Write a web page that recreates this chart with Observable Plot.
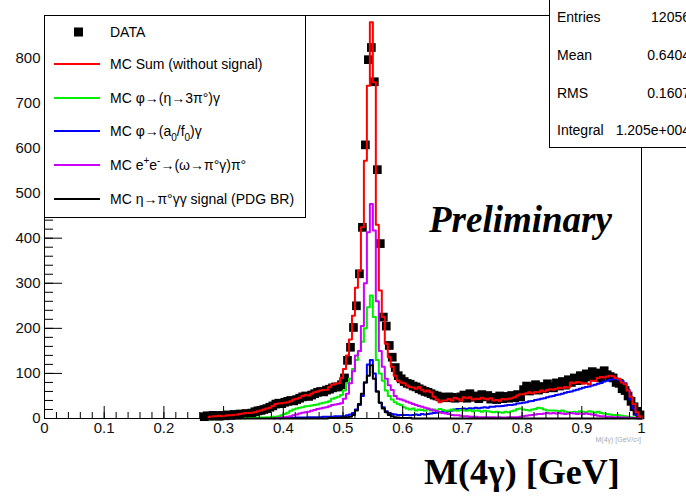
<!DOCTYPE html>
<html><head><meta charset="utf-8">
<script src="https://cdn.jsdelivr.net/npm/d3@7"></script>
<script src="https://cdn.jsdelivr.net/npm/@observablehq/plot@0.6"></script>
<style>body{margin:0;background:#fff} svg{display:block}</style>
</head><body><div id="chart"></div>
<script>
// Histogram bins: width 0.005, first bin starts at 0.25, 150 bins up to 1.0
const binStart = 0.25, binWidth = 0.005;

const dataCounts = [
  null,null,null,4,6,5,7,6,5,7,
  6,8,7,9,8,10,9,11,10,12,
  15,17,18,20,22,25,28,32,34,33,
  36,38,40,39,42,45,48,50,49,52,
  55,58,60,59,63,65,68,70,70,75,
  90,129,158,202,250,321,424,607,796,823,
  747,552,388,225,205,162,136,113,95,88,
  82,78,76,72,70,66,63,60,58,55,
  52,50,48,47,46,48,47,45,46,48,
  52,45,55,47,50,44,53,48,51,43,
  47,42,50,44,49,45,51,46,53,48,
  64,72,61,70,75,63,71,66,77,70,
  68,79,72,82,74,86,80,90,84,95,
  88,99,92,104,95,101,90,106,97,93,
  90,80,78,66,62,50,38,26,16,8
];
const mcSum = [
  null,null,null,null,null,4,5,5,6,5,
  6,7,7,8,9,10,11,12,12,13,
  14,16,18,20,22,24,28,32,33,34,
  35,36,38,42,44,46,50,52,51,55,
  58,60,62,63,64,70,75,77,78,90,
  110,140,175,228,290,328,424,572,738,879,
  746,430,284,225,166,136,115,95,84,80,
  78,73,70,69,66,70,64,60,62,58,
  48,42,36,40,40,43,40,46,44,40,
  47,45,47,42,44,43,46,44,42,45,
  40,41,39,43,42,44,45,47,51,54,
  54,56,58,56,59,58,62,60,63,65,
  64,66,68,67,70,69,80,78,81,80,
  77,78,76,84,83,90,92,91,93,95,
  94,90,88,80,76,62,48,32,14,5
];
const mcEta3pi = [
  null,null,null,null,null,null,null,null,null,null,
  null,null,null,null,null,null,null,1,1,1,
  1,2,2,2,3,3,4,4,5,7,
  10,13,17,20,22,24,25,27,28,29,
  30,31,33,35,36,38,44,46,48,52,
  62,78,88,110,130,150,170,200,247,273,
  225,130,100,84,62,50,42,36,32,30,
  25,22,20,22,18,20,19,17,21,18,
  20,18,21,19,17,18,20,18,17,19,
  18,17,19,16,18,17,15,17,16,15,
  14,15,14,13,15,14,16,18,21,22,
  20,19,18,20,21,24,23,20,18,18,
  18,17,16,18,15,14,14,15,14,16,
  15,14,16,15,13,15,12,11,10,9,
  8,8,7,6,5,4,3,2,1,1
];
const mcA0f0 = [
  null,null,null,null,null,null,null,null,null,null,
  null,null,null,null,null,null,null,null,null,null,
  null,null,null,null,null,null,null,null,null,1,
  1,1,1,1,2,2,2,2,3,3,
  3,3,3,4,4,4,4,5,5,5,
  5,7,9,12,20,30,50,80,120,130,
  100,60,35,25,16,12,10,9,8,8,
  8,8,7,8,9,8,10,9,10,11,
  12,13,14,15,14,16,18,20,21,21,
  22,21,23,22,24,23,24,25,24,26,
  26,27,27,28,29,30,30,31,33,34,
  35,36,38,39,41,42,44,45,47,49,
  50,52,53,55,57,59,60,62,64,66,
  68,70,71,73,75,77,79,82,84,86,
  87,88,86,83,78,64,42,22,8,2
];
const mcOmegaPi0 = [
  null,null,null,null,null,null,null,null,null,null,
  null,null,null,null,null,null,null,null,null,null,
  null,null,null,null,null,null,null,1,1,2,
  3,4,5,7,9,11,13,14,15,17,
  19,21,22,24,25,27,30,31,32,34,
  44,55,78,105,140,150,205,300,413,476,
  417,260,150,115,88,74,63,50,44,42,
  40,37,35,32,30,28,26,24,22,20,
  18,16,14,12,11,10,8,7,7,6,
  5,5,4,4,4,3,3,3,3,3,
  3,2,3,2,2,3,3,3,3,4,
  5,6,7,8,9,10,10,11,12,11,
  12,11,12,11,10,11,12,11,10,11,
  10,11,10,9,8,6,5,5,4,4,
  3,3,3,2,2,2,1,1,1,0
];
const mcSignal = [
  null,null,null,0,0,0,0,0,0,0,
  0,0,0,0,0,0,0,0,0,0,
  0,0,0,0,0,0,0,0,0,0,
  0,0,0,0,0,0,0,0,0,0,
  0,0,0,0,0,1,1,1,1,2,
  2,3,4,8,18,32,55,80,95,118,
  88,60,35,22,14,8,5,3,2,1,
  1,1,1,0,0,0,0,0,0,0,
  0,0,0,0,0,0,0,0,0,0,
  0,0,0,0,0,0,0,0,0,0,
  0,0,0,0,0,0,0,0,0,0,
  0,0,0,0,0,0,0,0,0,0,
  0,0,0,0,0,0,0,0,0,0,
  0,0,0,0,0,0,0,0,0,0,
  0,0,0,0,0,0,0,0,0,0
];

const xMajor = [0,0.1,0.2,0.3,0.4,0.5,0.6,0.7,0.8,0.9,1];
const xLabels = ["0","0.1","0.2","0.3","0.4","0.5","0.6","0.7","0.8","0.9","1"];
const yMajor = [0,100,200,300,400,500,600,700,800];
const yLabels = ["0","100","200","300","400","500","600","700","800"];

const legendItems = ["DATA","MC Sum (without signal)","MC φ→(η→3π°)γ","MC φ→(a0/f0)γ","MC e+e-→(ω→π°γ)π°","MC η→π°γγ signal (PDG BR)"];
const statsNames = ["Entries","Mean","RMS","Integral"];
const statsValues = ["12056","0.6404","0.1607","1.205e+004"];

const colors = {sum:"#ff0000", eta:"#00ee00", a0:"#0000ff", omega:"#cc00ff", sig:"#000000"};

const lo = i => +(binStart + i * binWidth).toFixed(4);
function steps(values) {
  const s = values.findIndex(v => v != null);
  const pts = [{x: lo(s), y: 0}];
  for (let i = s; i < values.length; i++) pts.push({x: lo(i), y: values[i]});
  pts.push({x: lo(values.length), y: values[values.length - 1]});
  pts.push({x: lo(values.length), y: 0});
  return pts;
}
const dataPts = dataCounts.map((v, i) => ({x: lo(i) + binWidth / 2, y: v})).filter(d => d.y != null && d.y > 0);

const xMinor = d3.range(0, 51).map(i => +(i * 0.02).toFixed(2));
const yMinor = d3.range(0, 45).map(i => i * 20);

const W = 686, H = 499, mL = 44, mR = 45, mT = 15, mB = 81;
const fw = W - mL - mR, fh = H - mT - mB;
const hist = (vals, c) => Plot.line(steps(vals), {x: "x", y: "y", curve: "step-after", stroke: c, strokeWidth: 2});

const chart = Plot.plot({
  width: W, height: H,
  marginLeft: mL, marginRight: mR, marginTop: mT, marginBottom: mB,
  x: {domain: [0, 1], axis: null},
  y: {domain: [0, 894], axis: null},
  style: {fontFamily: "'Liberation Sans', Arial, sans-serif", background: "white", color: "black"},
  marks: [
    Plot.dot(dataPts, {x: "x", y: "y", symbol: "square", r: 4.9, fill: "black", stroke: null}),
    hist(mcA0f0, colors.a0),
    hist(mcEta3pi, colors.eta),
    hist(mcOmegaPi0, colors.omega),
    hist(mcSignal, colors.sig),
    hist(mcSum, colors.sum),
    Plot.tickX(xMinor, {x: d => d, insetTop: fh - 6, stroke: "black"}),
    Plot.tickX(xMajor, {x: d => d, insetTop: fh - 12, stroke: "black"}),
    Plot.tickY(yMinor.filter(v => v <= 894), {y: d => d, insetRight: fw - 9, stroke: "black"}),
    Plot.tickY(yMajor, {y: d => d, insetRight: fw - 18, stroke: "black"}),
    Plot.frame({stroke: "black"}),
    Plot.text(xMajor, {x: d => d, frameAnchor: "bottom", dy: 14, text: (d, i) => xLabels[i], fontSize: 15, fill: "#111"}),
    Plot.text(yMajor, {y: d => d, frameAnchor: "left", dx: -4, textAnchor: "end", text: (d, i) => yLabels[i], fontSize: 15, fill: "#111"})
  ]
});
document.getElementById("chart").appendChild(chart);

const svg = d3.select(chart);
const sans = "'Liberation Sans', Arial, sans-serif";
const serif = "'Liberation Serif', 'Times New Roman', serif";

// Legend box
const lg = svg.append("g").attr("font-family", sans).attr("font-size", 14).attr("text-anchor", "start");
lg.append("rect").attr("x", 44.5).attr("y", 15.5).attr("width", 261).attr("height", 202).attr("fill", "white").attr("stroke", "black");
const rowsY = [32, 64, 98, 131, 165, 199];
const lineColors = [null, colors.sum, colors.eta, colors.a0, colors.omega, colors.sig];
lg.append("rect").attr("x", 74).attr("y", rowsY[0] - 4.5).attr("width", 9).attr("height", 9).attr("fill", "black");
for (let i = 1; i < 6; i++) {
  lg.append("line").attr("x1", 54).attr("x2", 100).attr("y1", rowsY[i]).attr("y2", rowsY[i]).attr("stroke", lineColors[i]).attr("stroke-width", 2);
}
function addText(i, parts) {
  const t = lg.append("text").attr("x", 110).attr("y", rowsY[i] + 5).attr("text-anchor", "start");
  parts.forEach(p => {
    const s = t.append("tspan").text(p.t);
    if (p.sub) s.attr("font-size", 10).attr("dy", 5);
    if (p.sup) s.attr("font-size", 10).attr("dy", -6);
    if (p.back) s.attr("dy", p.back);
  });
}
addText(0, [{t: legendItems[0]}]);
addText(1, [{t: legendItems[1]}]);
addText(2, [{t: legendItems[2]}]);
addText(3, [{t: "MC φ→(a"}, {t: "0", sub: true}, {t: "/f", back: -5}, {t: "0", sub: true}, {t: ")γ", back: -5}]);
addText(4, [{t: "MC e"}, {t: "+", sup: true}, {t: "e", back: 6}, {t: "-", sup: true}, {t: "→(ω→π°γ)π°", back: 6}]);
addText(5, [{t: legendItems[5]}]);

// Stats box
const st = svg.append("g").attr("font-family", sans).attr("font-size", 14);
st.append("rect").attr("x", 549.5).attr("y", -1).attr("width", 160).attr("height", 148.5).attr("fill", "white").attr("stroke", "black");
const sY = [22, 60, 98, 135];
statsNames.forEach((n, i) => {
  st.append("text").attr("x", 557).attr("y", sY[i]).attr("text-anchor", "start").text(n);
  st.append("text").attr("x", 690).attr("y", sY[i]).attr("text-anchor", "end").text(statsValues[i]);
});

// Preliminary
svg.append("text").attr("x", 429).attr("y", 232).attr("text-anchor", "start").attr("font-family", serif).attr("font-weight", "bold").attr("font-style", "italic").attr("font-size", 37).text("Preliminary");
// axis title
svg.append("text").attr("x", 424).attr("y", 484).attr("text-anchor", "start").attr("font-family", serif).attr("font-weight", "bold").attr("font-size", 36).text("M(4γ) [GeV]");
svg.append("text").attr("x", 641).attr("y", 442).attr("text-anchor", "end").attr("font-family", sans).attr("font-size", 7).attr("fill", "#aaa").text("M(4γ) [GeV/c²]");
</script>
</body></html>
